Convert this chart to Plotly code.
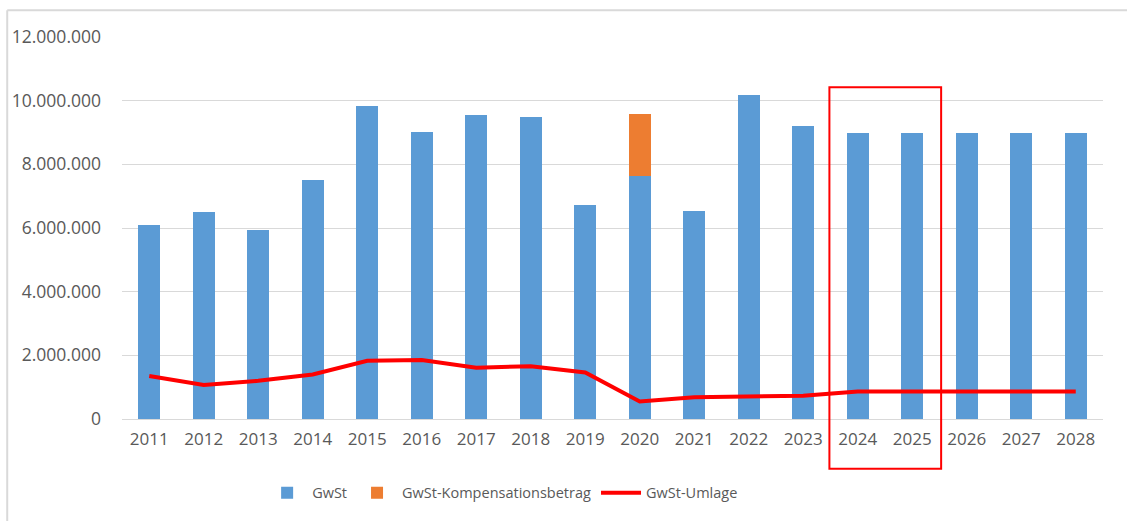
import plotly.graph_objects as go

years = [str(y) for y in range(2011, 2029)]
gwst = [6080000, 6500000, 5940000, 7500000, 9840000, 9030000, 9560000, 9500000,
        6720000, 7630000, 6540000, 10190000, 9200000, 9000000, 9000000, 9000000,
        9000000, 9000000]
kompensation = [0, 0, 0, 0, 0, 0, 0, 0, 0, 1950000, 0, 0, 0, 0, 0, 0, 0, 0]
umlage = [1350000, 1070000, 1200000, 1400000, 1830000, 1850000, 1610000, 1660000,
          1460000, 550000, 680000, 710000, 730000, 860000, 860000, 860000,
          860000, 860000]
highlight = ["2024", "2025"]
y_ticks = [0, 2000000, 4000000, 6000000, 8000000, 10000000, 12000000]
y_tick_labels = ["0", "2.000.000", "4.000.000", "6.000.000", "8.000.000",
                 "10.000.000", "12.000.000"]

FONT = "Open Sans"
GRAY = "#595959"

fig = go.Figure()
fig.add_trace(go.Bar(x=years, y=gwst, name="GwSt", marker_color="#5B9BD5",
                     marker_line_width=0))
fig.add_trace(go.Bar(x=years, y=kompensation, name="GwSt-Kompensationsbetrag",
                     marker_color="#ED7D31", marker_line_width=0))
fig.add_trace(go.Scatter(x=years, y=umlage, name="GwSt-Umlage", mode="lines",
                         line=dict(color="#FF0000", width=4)))

n = len(years)
i0 = years.index(highlight[0])
i1 = years.index(highlight[-1])
x0 = (i0 - 0.52 + 0.5) / n
x1 = (i1 + 0.53 + 0.5) / n

fig.add_shape(type="rect", xref="x domain", yref="y domain",
              x0=x0, x1=x1, y0=-0.13, y1=10.42e6 / 12e6,
              line=dict(color="#FF0000", width=2), fillcolor="rgba(0,0,0,0)")
# outer chart border (left and top)
fig.add_shape(type="line", xref="paper", yref="paper", x0=-0.117, x1=1.1,
              y0=1.0703, y1=1.0703, line=dict(color="#D9D9D9", width=2))
fig.add_shape(type="line", xref="paper", yref="paper", x0=-0.117, x1=-0.117,
              y0=1.0703, y1=-0.3, line=dict(color="#D9D9D9", width=2))

fig.update_layout(
    barmode="stack",
    bargap=0.6,
    width=1127, height=521,
    margin=dict(l=122, r=24, t=37, b=99),
    plot_bgcolor="white", paper_bgcolor="white",
    font=dict(family=FONT, color=GRAY, size=16),
    showlegend=True,
    legend=dict(orientation="h", x=0.388, xanchor="center", y=-0.193,
                yanchor="middle", font=dict(size=14.5, color=GRAY),
                traceorder="normal", itemwidth=40),
    xaxis=dict(type="category", showgrid=False, showline=False, ticks="",
               tickfont=dict(size=17, color=GRAY), ticklabelstandoff=8),
    yaxis=dict(range=[0, 12e6], tickvals=y_ticks, ticktext=y_tick_labels,
               showgrid=True, gridcolor="#D9D9D9", gridwidth=1,
               zeroline=True, zerolinecolor="#D9D9D9", zerolinewidth=1,
               showline=False, ticks="", tickfont=dict(size=17.5, color=GRAY),
               ticklabelstandoff=20),
)

fig.write_html("out.html",
               config={"displayModeBar": False},
               post_script="document.body.style.margin='0';"
                           "document.body.style.overflow='hidden';")
